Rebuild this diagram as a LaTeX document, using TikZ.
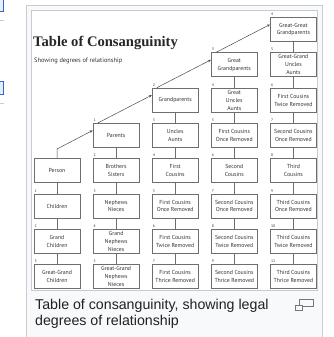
\documentclass[tikz,border=0pt]{standalone}
\usepackage{fontspec}
\setmainfont{Liberation Sans}
\newfontfamily\titlefont{Liberation Serif}
\newfontfamily\boxfont{PT Sans}
\usetikzlibrary{arrows.meta}
\definecolor{framebg}{HTML}{F8F9FA}
\definecolor{frameline}{HTML}{C8CCD1}
\definecolor{boxline}{HTML}{6E6E6E}
\definecolor{boxtext}{HTML}{333333}
\definecolor{captext}{HTML}{202122}
\definecolor{iconline}{HTML}{72777D}
\definecolor{linkblue}{HTML}{3366CC}
\begin{document}
\begin{tikzpicture}[x=1pt,y=-1pt,
  rel/.style={draw=boxline, line width=0.75pt, fill=white, minimum width=46pt, minimum height=24pt,
    inner sep=0pt, align=center, font=\boxfont\fontsize{5.8}{7.9}\selectfont, text=boxtext},
  deg/.style={font=\boxfont\fontsize{3.8}{4}\selectfont, text=boxtext, inner sep=0pt,
    anchor=south west, xshift=0.8pt, yshift=1.2pt},
  link/.style={draw=boxline, line width=0.6pt},
  climb/.style={draw=black!70, line width=0.5pt, -{Stealth[length=3.2pt,width=2.6pt]}}]
\useasboundingbox (0,0) rectangle (333,337);
% page fragments at left edge
\draw[linkblue, fill=linkblue!12, line width=0.8pt] (-2,-1) rectangle (3.5,11.5);
\draw[frameline, line width=0.8pt] (0,20.5) -- (4,20.5);
\draw[linkblue, fill=linkblue!12, line width=0.8pt] (-2,81.5) rectangle (3.5,94);
\draw[frameline, line width=0.8pt] (0,103.5) -- (4,103.5);
% thumbnail frame
\fill[framebg] (26.5,5.5) rectangle (322.5,337);
\draw[frameline, line width=1pt] (26.5,337) -- (26.5,5.5) -- (322.5,5.5) -- (322.5,337);
\draw[frameline, fill=white, line width=1pt] (31.5,10.5) rectangle (317.5,290.5);
% title
\node[anchor=base west, inner sep=0pt, font=\titlefont\bfseries\fontsize{14.6}{15}\selectfont, text=black!85] (title) at (33,47) {Table of Consanguinity};
\node[anchor=base west, inner sep=0pt, font=\boxfont\fontsize{6.4}{6.5}\selectfont, text=boxtext] (subtitle) at (34,63) {Showing degrees of relationship};
% boxes
\node[rel] (r0c4) at (293.4,29.5) {Great-Great\\Grandparents};
\node[rel] (r1c3) at (234.3,64.8) {Great\\Grandparents};
\node[rel] (r1c4) at (293.4,64.8) {Great-Grand\\Uncles\\Aunts};
\node[rel] (r2c2) at (175.2,100.1) {Grandparents};
\node[rel] (r2c3) at (234.3,100.1) {Great\\Uncles\\Aunts};
\node[rel] (r2c4) at (293.4,100.1) {First Cousins\\Twice Removed};
\node[rel] (r3c1) at (116.1,135.4) {Parents};
\node[rel] (r3c2) at (175.2,135.4) {Uncles\\Aunts};
\node[rel] (r3c3) at (234.3,135.4) {First Cousins\\Once Removed};
\node[rel] (r3c4) at (293.4,135.4) {Second Cousins\\Once Removed};
\node[rel] (r4c0) at (57,170.7) {Person};
\node[rel] (r4c1) at (116.1,170.7) {Brothers\\Sisters};
\node[rel] (r4c2) at (175.2,170.7) {First\\Cousins};
\node[rel] (r4c3) at (234.3,170.7) {Second\\Cousins};
\node[rel] (r4c4) at (293.4,170.7) {Third\\Cousins};
\node[rel] (r5c0) at (57,206.0) {Children};
\node[rel] (r5c1) at (116.1,206.0) {Nephews\\Nieces};
\node[rel] (r5c2) at (175.2,206.0) {First Cousins\\Once Removed};
\node[rel] (r5c3) at (234.3,206.0) {Second Cousins\\Once Removed};
\node[rel] (r5c4) at (293.4,206.0) {Third Cousins\\Once Removed};
\node[rel] (r6c0) at (57,241.3) {Grand\\Children};
\node[rel] (r6c1) at (116.1,241.3) {Grand\\Nephews\\Nieces};
\node[rel] (r6c2) at (175.2,241.3) {First Cousins\\Twice Removed};
\node[rel] (r6c3) at (234.3,241.3) {Second Cousins\\Twice Removed};
\node[rel] (r6c4) at (293.4,241.3) {Third Cousins\\Twice Removed};
\node[rel] (r7c0) at (57,276.6) {Great-Grand\\Children};
\node[rel] (r7c1) at (116.1,276.6) {Great-Grand\\Nephews\\Nieces};
\node[rel] (r7c2) at (175.2,276.6) {First Cousins\\Thrice Removed};
\node[rel] (r7c3) at (234.3,276.6) {Second Cousins\\Thrice Removed};
\node[rel] (r7c4) at (293.4,276.6) {Third Cousins\\Thrice Removed};
% degree numbers
\foreach \n/\d in {r0c4/4, r1c3/3, r1c4/5, r2c2/2, r2c3/4, r2c4/6, r3c1/1, r3c2/3, r3c3/5, r3c4/7,
  r4c1/2, r4c2/4, r4c3/6, r4c4/8, r5c0/1, r5c1/3, r5c2/5, r5c3/7, r5c4/9,
  r6c0/2, r6c1/4, r6c2/6, r6c3/8, r6c4/10, r7c0/3, r7c1/5, r7c2/7, r7c3/9, r7c4/11}
  \node[deg] (deg-\n) at (\n.north west) {\d};
% vertical links
\draw[link] (r4c0.south) -- (r5c0.north) (r5c0.south) -- (r6c0.north) (r6c0.south) -- (r7c0.north);
\draw[link] (r3c1.south) -- (r4c1.north) (r4c1.south) -- (r5c1.north) (r5c1.south) -- (r6c1.north) (r6c1.south) -- (r7c1.north);
\draw[link] (r2c2.south) -- (r3c2.north) (r3c2.south) -- (r4c2.north) (r4c2.south) -- (r5c2.north) (r5c2.south) -- (r6c2.north) (r6c2.south) -- (r7c2.north);
\draw[link] (r1c3.south) -- (r2c3.north) (r2c3.south) -- (r3c3.north) (r3c3.south) -- (r4c3.north) (r4c3.south) -- (r5c3.north) (r5c3.south) -- (r6c3.north) (r6c3.south) -- (r7c3.north);
\draw[link] (r0c4.south) -- (r1c4.north) (r1c4.south) -- (r2c4.north) (r2c4.south) -- (r3c4.north) (r3c4.south) -- (r4c4.north) (r4c4.south) -- (r5c4.north) (r5c4.south) -- (r6c4.north) (r6c4.south) -- (r7c4.north);
% ascending arrows
\coordinate (bend) at (57,149);
\draw[climb] (r4c0.north) -- (bend) -- ([yshift=5pt]r3c1.west);
\draw[climb] ([xshift=5pt]r3c1.north west) -- ([yshift=5pt]r2c2.west);
\draw[climb] ([xshift=5pt]r2c2.north west) -- ([yshift=5pt]r1c3.west);
\draw[climb] ([xshift=5pt]r1c3.north west) -- ([yshift=5pt]r0c4.west);
% caption
\node[anchor=base west, inner sep=0pt, font=\fontsize{14.2}{16}\selectfont, text=captext] (cap1) at (35,309.5) {Table of consanguinity, showing legal};
\node[anchor=base west, inner sep=0pt, font=\fontsize{14.2}{16}\selectfont, text=captext] (cap2) at (35,325.5) {degrees of relationship};
% magnify icon
\draw[iconline, line width=1pt] (299.5,299) rectangle (313.5,306);
\draw[iconline, fill=framebg, line width=1pt] (295.5,305) rectangle (302.5,310.5);
\end{tikzpicture}
\end{document}
